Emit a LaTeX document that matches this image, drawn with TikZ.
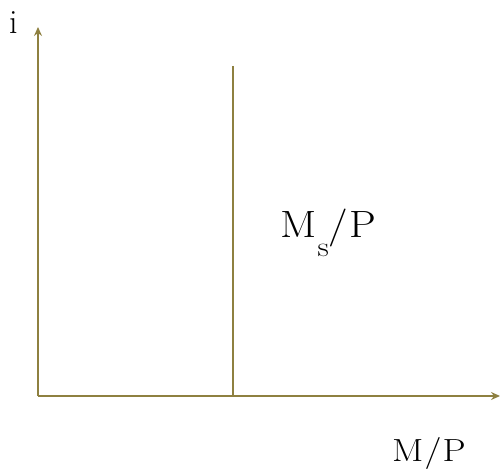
\documentclass[tikz,border=0pt]{standalone}
\usepackage{fontspec}
\usetikzlibrary{arrows.meta}
\definecolor{axiscol}{RGB}{142,128,64}
\begin{document}
\begin{tikzpicture}[x=1pt,y=-1pt,
  axisline/.style={draw=axiscol,line width=2pt},
  axisarrow/.style={axisline,-{Stealth[length=9pt,width=8pt,inset=3pt]}},
  lbl/.style={inner sep=0pt,anchor=base west,text=black}]
\useasboundingbox (0,0) rectangle (500,470);
\coordinate (O) at (38,396);
\coordinate (Ytop) at (38,27);
\coordinate (Xend) at (500,396);
\coordinate (Stop) at (233,66);
\coordinate (Sbot) at (233,396);
\draw[axisarrow] (O) -- (Ytop);
\draw[axisarrow] (O) -- (Xend);
\draw[axisline] (Stop) -- (Sbot);
\node[lbl,font=\fontsize{34}{38}\selectfont] (ilbl) at (9,34) {i};
\node[lbl,font=\fontsize{38}{42}\selectfont] (ms) at (280,237) {\scalebox{1.12}[1]{M\kern1pt\raisebox{-19pt}{\fontsize{28}{30}\selectfont s}\kern0pt/\kern1pt P}};
\node[lbl,font=\fontsize{32}{35}\selectfont] (mp) at (392,461) {\scalebox{1.15}[1]{M\kern1pt/\kern1pt P}};
\end{tikzpicture}
\end{document}
